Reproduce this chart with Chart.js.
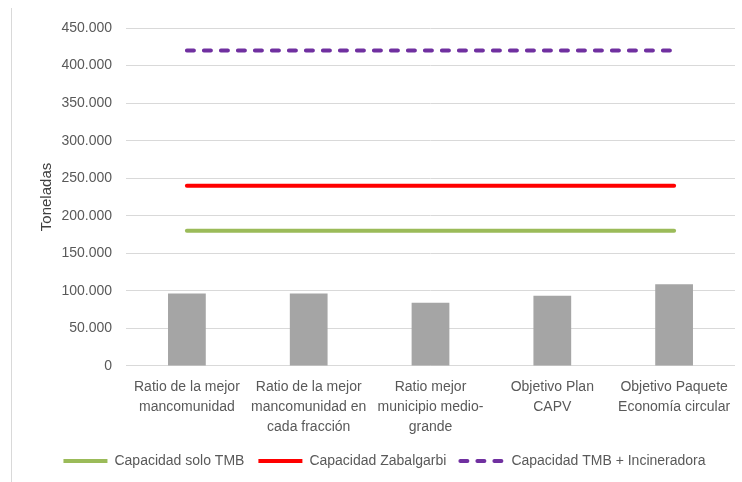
<!DOCTYPE html>
<html>
<head>
<meta charset="utf-8">
<script src="https://cdn.jsdelivr.net/npm/chart.js@4"></script>
<style>
  body { margin: 0; background: #fff; }
  #wrap { position: relative; width: 742px; height: 482px; }
  #edge { position: absolute; left: 11px; top: 8px; width: 1px; height: 474px; background: #d9d9d9; }
</style>
</head>
<body>
<div id="wrap">
  <div id="edge"></div>
  <canvas id="myChart" width="742" height="482"></canvas>
</div>
<script>
const categories = [
  ["Ratio de la mejor", "mancomunidad"],
  ["Ratio de la mejor", "mancomunidad en", "cada fracción"],
  ["Ratio mejor", "municipio medio-", "grande"],
  ["Objetivo Plan", "CAPV"],
  ["Objetivo Paquete", "Economía circular"],
];
const toneladas = [96500, 96500, 84300, 93500, 108700];
const capSoloTMB = [180000, 180000, 180000, 180000, 180000];
const capZabalgarbi = [240000, 240000, 240000, 240000, 240000];
const capTMBIncineradora = [420000, 420000, 420000, 420000, 420000];

const textColor = "#595959";
const font = { family: "Liberation Sans", size: 14 };

// thousands with a dot, like the original sheet
function fmt(v) {
  return String(v).replace(/\B(?=(\d{3})+(?!\d))/g, ".");
}

Chart.defaults.color = textColor;
Chart.defaults.font = font;

new Chart(document.getElementById("myChart"), {
  type: "bar",
  data: {
    labels: categories,
    datasets: [
      {
        label: "Toneladas",
        data: toneladas,
        backgroundColor: "#a5a5a5",
        barPercentage: 0.31,
        categoryPercentage: 1,
        order: 2,
      },
      {
        type: "line",
        label: "Capacidad solo TMB",
        data: capSoloTMB,
        borderColor: "#9bbb59",
        backgroundColor: "#9bbb59",
        borderWidth: 4,
        borderCapStyle: "round",
        pointRadius: 0,
        order: 1,
      },
      {
        type: "line",
        label: "Capacidad Zabalgarbi",
        data: capZabalgarbi,
        borderColor: "#ff0000",
        backgroundColor: "#ff0000",
        borderWidth: 4,
        borderCapStyle: "round",
        pointRadius: 0,
        order: 1,
      },
      {
        type: "line",
        label: "Capacidad TMB + Incineradora",
        data: capTMBIncineradora,
        borderColor: "#7030a0",
        backgroundColor: "#7030a0",
        borderWidth: 4,
        borderCapStyle: "round",
        borderDash: [7, 10],
        pointRadius: 0,
        order: 1,
      },
    ],
  },
  options: {
    responsive: false,
    animation: false,
    layout: { padding: { left: 34, right: 7, top: 28, bottom: 4 } },
    plugins: {
      tooltip: { enabled: false },
      legend: {
        position: "bottom",
        labels: {
          usePointStyle: true,
          pointStyle: "line",
          pointStyleWidth: 44,
          boxHeight: 4,
          padding: 14,
          font: font,
          color: textColor,
          // skip the bars, keep each line's dash in the legend
          generateLabels: (chart) =>
            Chart.defaults.plugins.legend.labels.generateLabels(chart)
              .filter((it) => it.datasetIndex > 0)
              .map((it) => {
                const ds = chart.data.datasets[it.datasetIndex];
                return Object.assign(it, {
                  lineWidth: 4,
                  lineDash: ds.borderDash || [],
                  lineCap: ds.borderDash ? "round" : "butt",
                });
              }),
        },
      },
    },
    scales: {
      x: {
        grid: { display: false },
        border: { display: false },
        ticks: {
          maxRotation: 0,
          autoSkip: false,
          padding: 3,
          font: { family: "Liberation Sans", size: 14, lineHeight: 1.43 },
          color: textColor,
        },
      },
      y: {
        min: 0,
        max: 450000,
        ticks: { stepSize: 50000, padding: 14, font: font, color: textColor, callback: (v) => fmt(v) },
        grid: { color: "#d9d9d9", lineWidth: 1, drawTicks: false },
        border: { display: false },
        title: { display: true, text: "Toneladas", font: { family: "Liberation Sans", size: 15 }, color: "#404040" },
        afterFit: (s) => { s.width = 92; },
      },
    },
  },
});
</script>
</body>
</html>
